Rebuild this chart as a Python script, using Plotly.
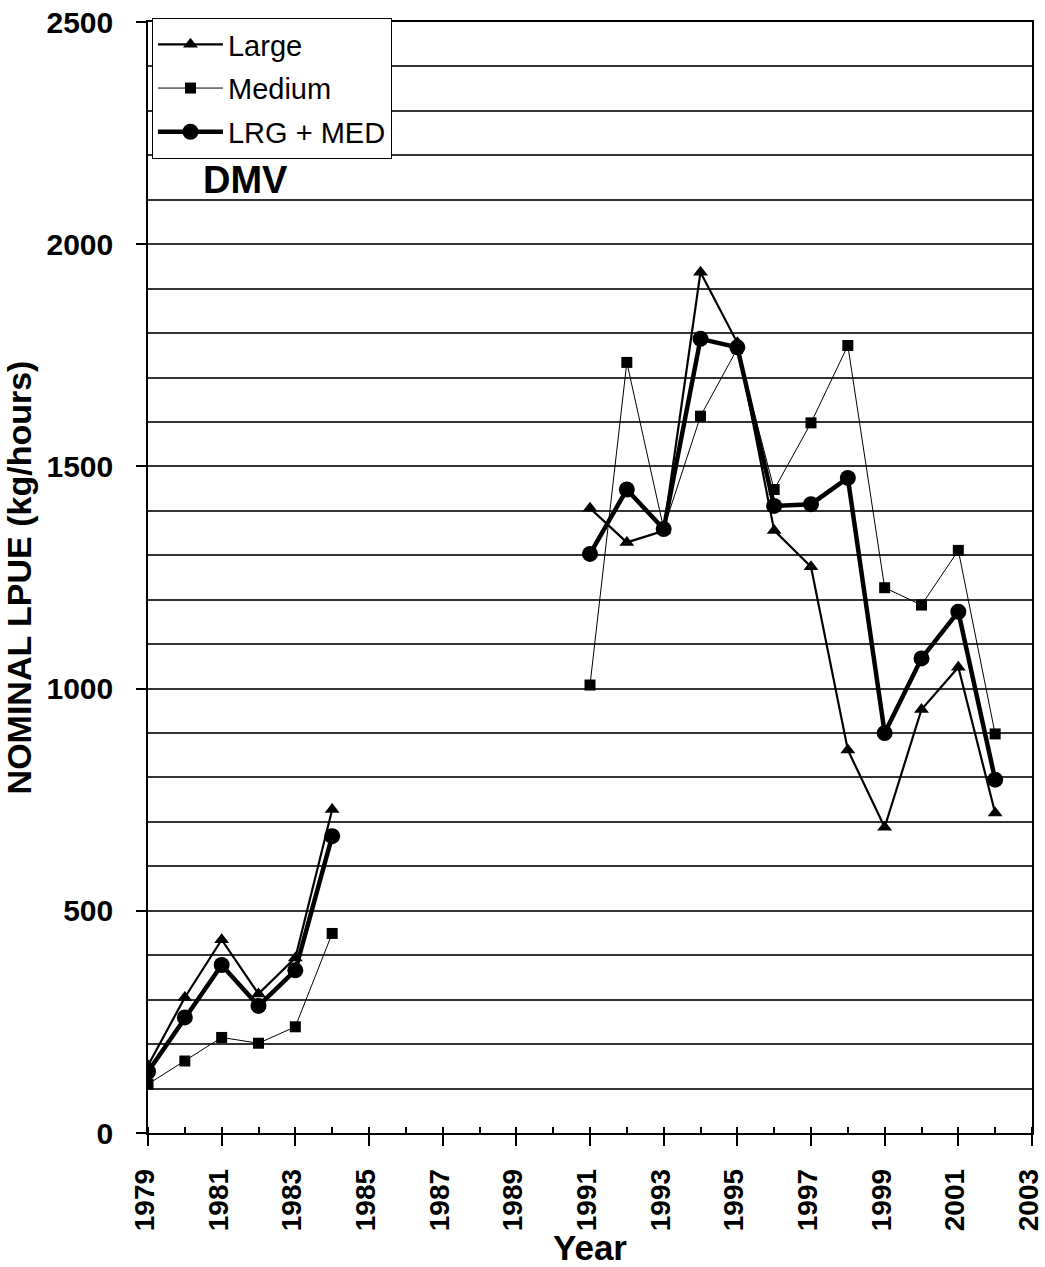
import plotly.graph_objects as go

years = list(range(1979, 2003))
large = [152, 305, 435, 313, 394, 728,
         None, None, None, None, None, None,
         1406, 1329, 1355, 1937, 1778, 1356, 1274, 862, 688, 953, 1048, 720]
medium = [110, 162, 215, 202, 239, 449,
          None, None, None, None, None, None,
          1008, 1734, 1360, 1613, 1765, 1448, 1598, 1772, 1227, 1188, 1311, 898]
lrg_med = [138, 260, 378, 286, 366, 668,
           None, None, None, None, None, None,
           1303, 1448, 1359, 1787, 1768, 1411, 1415, 1474, 900, 1068, 1173, 795]

FONT = "Liberation Sans"

fig = go.Figure()
fig.add_trace(go.Scatter(
    x=years, y=large, name="Large", mode="lines+markers",
    line=dict(color="black", width=2.2),
    marker=dict(symbol="triangle-up", size=13, color="black"),
    legendgroup="a", connectgaps=False))
fig.add_trace(go.Scatter(
    x=years, y=medium, name="Medium", mode="lines+markers",
    line=dict(color="black", width=1),
    marker=dict(symbol="square", size=11, color="black"),
    legendgroup="b", connectgaps=False))
fig.add_trace(go.Scatter(
    x=years, y=lrg_med, name="LRG + MED", mode="lines+markers",
    line=dict(color="black", width=4.5),
    marker=dict(symbol="circle", size=16, color="black"),
    legendgroup="c", connectgaps=False))

fig.add_annotation(x=1981.66, y=2144, xref="x", yref="y", text="<b>DMV</b>",
                   showarrow=False, font=dict(family=FONT, size=38, color="black"))

fig.update_layout(
    width=1045, height=1267,
    margin=dict(l=148, r=13, t=22, b=134, autoexpand=False),
    paper_bgcolor="white", plot_bgcolor="white",
    font=dict(family=FONT, color="black"),
    showlegend=True,
    legend=dict(x=0.0045, y=1.0036, xanchor="left", yanchor="top",
                bgcolor="white", bordercolor="black", borderwidth=1,
                font=dict(family=FONT, size=29, color="black"),
                tracegroupgap=3, itemwidth=65),
    xaxis=dict(range=[1979, 2003.0001], tickmode="linear", tick0=1979, dtick=2,
               tickangle=-90, ticks="outside", ticklen=11, tickwidth=1.5,
               tickcolor="black", showgrid=False, zeroline=False, automargin=False,
               showline=True, linecolor="black", linewidth=1.5, mirror=True,
               ticklabelstandoff=12, ticklabelshift=-3, ticklabeloverflow="allow",
               tickfont=dict(family=FONT, size=28, color="black", weight="bold"),
               minor=dict(dtick=1, ticks="inside", ticklen=6, tickcolor="black"),
               title=dict(text="<b>Year</b>", font=dict(family=FONT, size=35), standoff=4)),
    yaxis=dict(range=[0, 2500], tickmode="linear", tick0=0, dtick=500,
               ticks="outside", ticklen=10, tickwidth=1.5, tickcolor="black",
               showgrid=True, gridcolor="#333", gridwidth=1.5, zeroline=False,
               showline=True, linecolor="black", linewidth=1.5, mirror=True,
               ticklabelstandoff=17, automargin=False,
               tickfont=dict(family=FONT, size=30, color="black", weight="bold"),
               minor=dict(dtick=100, showgrid=True, gridcolor="#333", gridwidth=1.5),
               title=dict(text="<b>NOMINAL LPUE (kg/hours)</b>",
                          font=dict(family=FONT, size=34), standoff=8)),
)

fig.write_html("out.html")
